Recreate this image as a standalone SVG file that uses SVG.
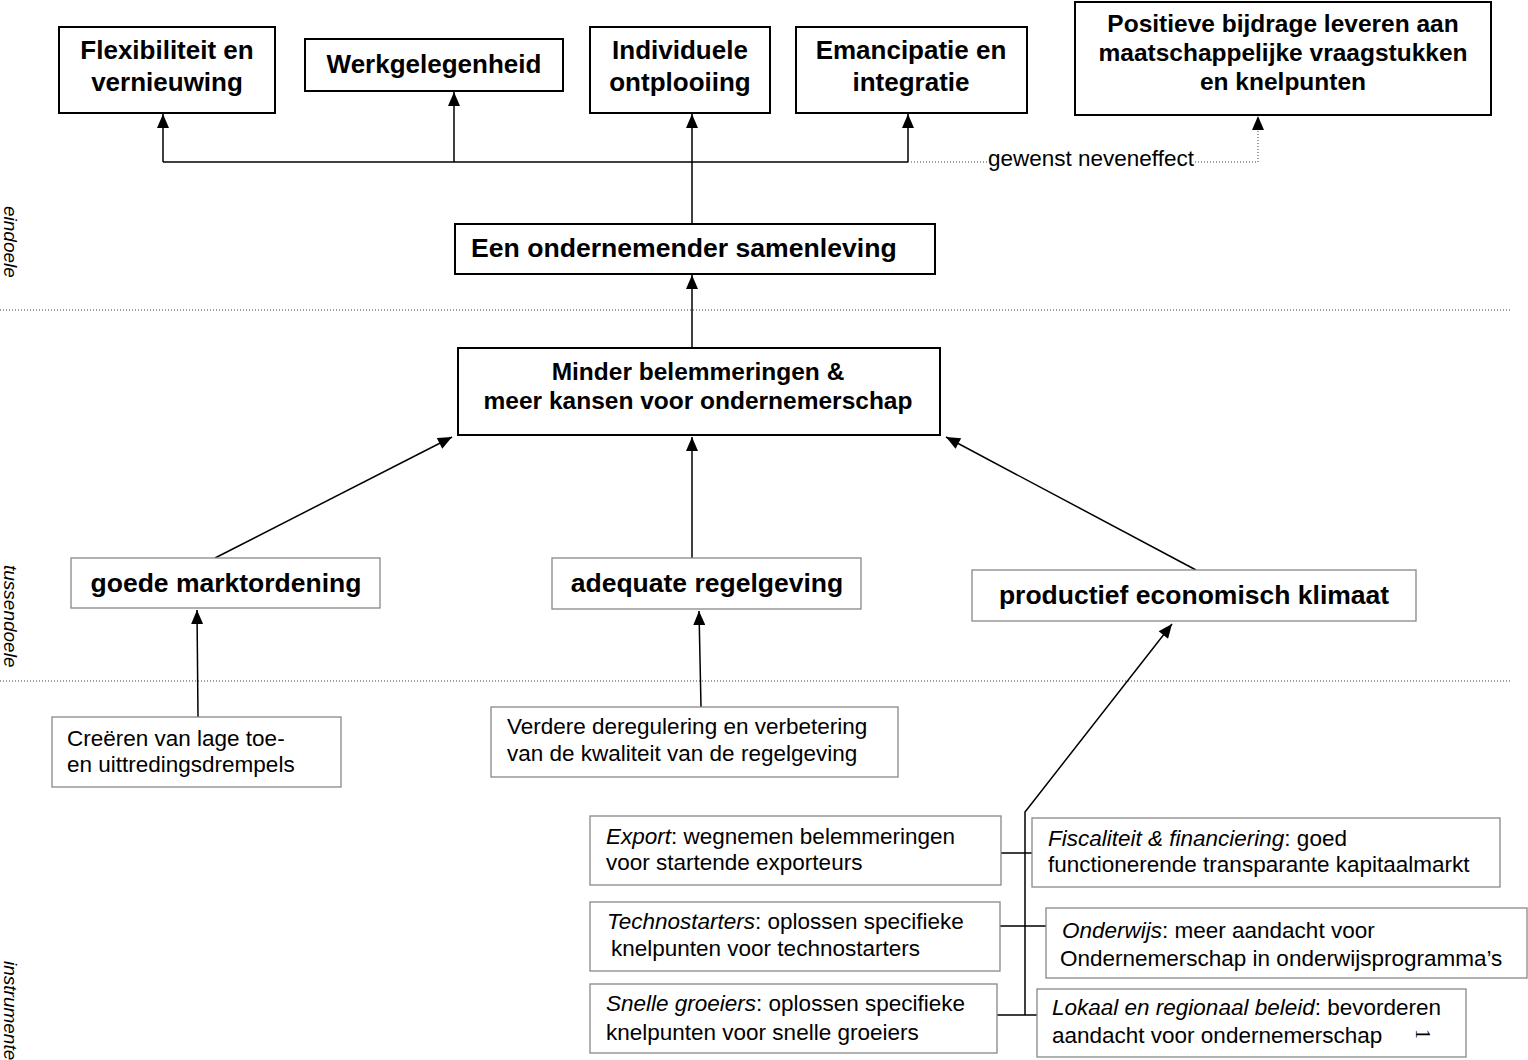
<svg xmlns="http://www.w3.org/2000/svg" width="1528" height="1060" viewBox="0 0 1528 1060">
<style>
text{font-family:"Liberation Sans",Arial,sans-serif;fill:#000}
.b{font-weight:bold}
.c{text-anchor:middle}
.r{font-size:22.5px}
.it{font-style:italic}
.bx1{fill:#fff;stroke:#000;stroke-width:2}
.bx2{fill:#fff;stroke:#888;stroke-width:1.3}
.ln{fill:none;stroke:#000;stroke-width:1.5}
.dot{fill:none;stroke:#444;stroke-width:1;stroke-dasharray:1 2}
.side{font-size:19px;font-style:italic}
</style>
<defs>
<marker id="ah" viewBox="0 0 14 12" refX="14" refY="6" markerWidth="15" markerHeight="12" markerUnits="userSpaceOnUse" orient="auto">
<path d="M0,0 L14,6 L0,12 z" fill="#000"/>
</marker>
</defs>
<rect width="1528" height="1060" fill="#fff"/>

<g id="separators">
<line class="dot" x1="0" y1="310" x2="1510" y2="310"/>
<line class="dot" x1="0" y1="681" x2="1510" y2="681"/>
<text class="side" transform="translate(4,206) rotate(90)">eindoele</text>
<text class="side" transform="translate(4,565) rotate(90)">tussendoele</text>
<text class="side" transform="translate(4,961) rotate(90)">instrumente</text>
</g>

<g id="connectors">
<path class="ln" d="M163,162 H908"/>
<path class="ln" d="M163,162 V114" marker-end="url(#ah)"/>
<path class="ln" d="M454,162 V92" marker-end="url(#ah)"/>
<path class="ln" d="M692,224 V114" marker-end="url(#ah)"/>
<path class="ln" d="M908,162 V114" marker-end="url(#ah)"/>
<path class="dot" d="M908,162 H988 M1195,162 H1258 V128"/>
<path d="M1258,162 V116" fill="none" stroke="none" marker-end="url(#ah)"/>
<text x="1091" y="166" class="c" style="font-size:22.5px">gewenst neveneffect</text>
<path class="ln" d="M692,348 V275" marker-end="url(#ah)"/>
<path class="ln" d="M215,558 L452,437" marker-end="url(#ah)"/>
<path class="ln" d="M692,558 V437" marker-end="url(#ah)"/>
<path class="ln" d="M1196,570 L946,437" marker-end="url(#ah)"/>
<path class="ln" d="M198,717 L197,610" marker-end="url(#ah)"/>
<path class="ln" d="M701,707 L699,611" marker-end="url(#ah)"/>
<path class="ln" d="M1025,1015 V812 L1172,624" marker-end="url(#ah)"/>
<path class="ln" d="M1001,853 H1032 M1000,926 H1046 M997,1015 H1037"/>
</g>

<g id="n-flex">
<rect class="bx1" x="59" y="27" width="216" height="86"/>
<text class="b c" x="167" y="59" style="font-size:26px">Flexibiliteit en</text>
<text class="b c" x="167" y="91" style="font-size:26px">vernieuwing</text>
</g>
<g id="n-werk">
<rect class="bx1" x="305" y="39" width="258" height="52"/>
<text class="b c" x="434" y="73" style="font-size:26px">Werkgelegenheid</text>
</g>
<g id="n-indiv">
<rect class="bx1" x="590" y="27" width="180" height="86"/>
<text class="b c" x="680" y="59" style="font-size:26px">Individuele</text>
<text class="b c" x="680" y="91" style="font-size:26px">ontplooiing</text>
</g>
<g id="n-eman">
<rect class="bx1" x="796" y="27" width="231" height="86"/>
<text class="b c" x="911" y="59" style="font-size:26px">Emancipatie en</text>
<text class="b c" x="911" y="91" style="font-size:26px">integratie</text>
</g>
<g id="n-posit">
<rect class="bx1" x="1075" y="2" width="416" height="113"/>
<text class="b c" x="1283" y="32" style="font-size:24.5px">Positieve bijdrage leveren aan</text>
<text class="b c" x="1283" y="61" style="font-size:24.5px">maatschappelijke vraagstukken</text>
<text class="b c" x="1283" y="90" style="font-size:24.5px">en knelpunten</text>
</g>
<g id="n-een">
<rect class="bx1" x="455" y="224" width="480" height="50"/>
<text class="b" x="471" y="257" style="font-size:26.6px">Een ondernemender samenleving</text>
</g>
<g id="n-minder">
<rect class="bx1" x="458" y="348" width="482" height="87"/>
<text class="b c" x="698" y="380" style="font-size:24.5px">Minder belemmeringen &amp;</text>
<text class="b c" x="698" y="409" style="font-size:24.5px">meer kansen voor ondernemerschap</text>
</g>
<g id="n-goede">
<rect class="bx2" x="71" y="558" width="309" height="50"/>
<text class="b c" x="226" y="592" style="font-size:26.5px">goede marktordening</text>
</g>
<g id="n-adequate">
<rect class="bx2" x="552" y="558" width="309" height="51"/>
<text class="b c" x="707" y="592" style="font-size:26.5px">adequate regelgeving</text>
</g>
<g id="n-productief">
<rect class="bx2" x="972" y="570" width="444" height="51"/>
<text class="b c" x="1194" y="604" style="font-size:26.5px">productief economisch klimaat</text>
</g>
<g id="n-creeren">
<rect class="bx2" x="52" y="717" width="289" height="70"/>
<text class="r" x="67" y="746">Creëren van lage toe-</text>
<text class="r" x="67" y="772">en uittredingsdrempels</text>
</g>
<g id="n-verdere">
<rect class="bx2" x="491" y="707" width="407" height="70"/>
<text class="r" x="507" y="734">Verdere deregulering en verbetering</text>
<text class="r" x="507" y="761">van de kwaliteit van de regelgeving</text>
</g>
<g id="n-export">
<rect class="bx2" x="590" y="816" width="411" height="69"/>
<text class="r" x="606" y="844"><tspan class="it">Export</tspan>: wegnemen belemmeringen</text>
<text class="r" x="606" y="870">voor startende exporteurs</text>
</g>
<g id="n-techno">
<rect class="bx2" x="590" y="902" width="410" height="69"/>
<text class="r" x="607" y="929"><tspan class="it">Technostarters</tspan>: oplossen specifieke</text>
<text class="r" x="611" y="956">knelpunten voor technostarters</text>
</g>
<g id="n-snelle">
<rect class="bx2" x="590" y="984" width="407" height="69"/>
<text class="r" x="606" y="1011"><tspan class="it">Snelle groeiers</tspan>: oplossen specifieke</text>
<text class="r" x="606" y="1040">knelpunten voor snelle groeiers</text>
</g>
<g id="n-fiscal">
<rect class="bx2" x="1032" y="818" width="468" height="69"/>
<text class="r" x="1048" y="846"><tspan class="it">Fiscaliteit &amp; financiering</tspan>: goed</text>
<text class="r" x="1048" y="872">functionerende transparante kapitaalmarkt</text>
</g>
<g id="n-onderwijs">
<rect class="bx2" x="1046" y="908" width="481" height="70"/>
<text class="r" x="1062" y="938"><tspan class="it">Onderwijs</tspan>: meer aandacht voor</text>
<text class="r" x="1060" y="966">Ondernemerschap in onderwijsprogramma’s</text>
</g>
<g id="n-lokaal">
<rect class="bx2" x="1037" y="989" width="429" height="68"/>
<text class="r" x="1052" y="1015"><tspan class="it">Lokaal en regionaal beleid</tspan>: bevorderen</text>
<text class="r" x="1052" y="1043">aandacht voor ondernemerschap</text>
<text transform="translate(1416,1029) rotate(90)" style="font-family:'Liberation Serif',serif;font-size:20px">1</text>
</g>
</svg>
